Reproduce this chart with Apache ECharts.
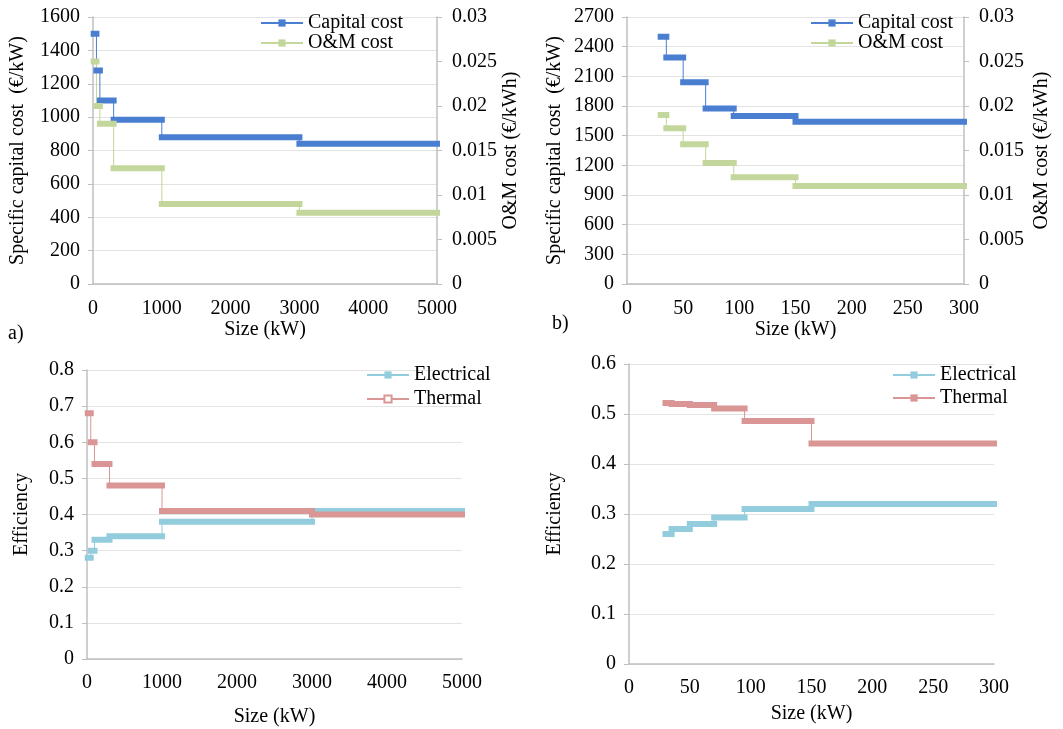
<!DOCTYPE html>
<html>
<head>
<meta charset="utf-8">
<script src="https://cdn.jsdelivr.net/npm/echarts@6/dist/echarts.min.js"></script>
<style>
  html, body { margin: 0; padding: 0; background: #fff; }
  #main { width: 1063px; height: 729px; }
</style>
</head>
<body>
<div id="main"></div>
<script>
// step limits (kW) for the big units (a, c) and the micro units (b, d)
var bigStart = [10, 50, 100, 300, 1000, 3000];
var bigEnd = [50, 100, 300, 1000, 3000, 5000];
var smallStart = [30, 35, 50, 70, 95, 150];
var smallEnd = [35, 50, 70, 95, 150, 300];

// a) costs
var capitalA = [1500, 1280, 1100, 985, 880, 840];
var omA = [0.025, 0.02, 0.018, 0.013, 0.009, 0.008];
// b) costs
var capitalB = [2500, 2290, 2040, 1775, 1700, 1640];
var omB = [0.019, 0.0175, 0.0157, 0.0136, 0.012, 0.011];
// c) efficiency
var elecC = [0.28, 0.30, 0.33, 0.34, 0.38, 0.41];
var thermC = [0.68, 0.60, 0.54, 0.48, 0.41, 0.40];
// d) efficiency
var elecD = [0.26, 0.27, 0.28, 0.293, 0.31, 0.32];
var thermD = [0.522, 0.52, 0.518, 0.511, 0.486, 0.441];

var FONT = 'Liberation Serif';
var blue = '#4a7ed0', green = '#c3d69b', cyan = '#93cddd', red = '#d99694';
var axisGray = '#bfbfbf', gridGray = '#e3e3e3';

//标签不加千分位
function plain(v) {
  return String(+v.toFixed(4));
}
//折线（细）
function thinLine(s, e, v) {
  var d = [];
  for (var i = 0; i < v.length; i++) {
    d.push([s[i], v[i]]);
    d.push([e[i], v[i]]);
  }
  return d;
}
//粗段
function thickSteps(s, e, v) {
  var d = [];
  for (var i = 0; i < v.length; i++) {
    d.push([s[i], v[i]]);
    d.push([e[i], v[i]]);
    d.push([e[i], '-']);
  }
  return d;
}
function pair(name, color, sym, g, yi, s, e, v) {
  return [
    {
      name: name, type: 'line', xAxisIndex: g, yAxisIndex: yi,
      data: thinLine(s, e, v), symbol: sym, showSymbol: false,
      lineStyle: { width: 1, color: color }, itemStyle: { color: color },
      z: 2, silent: true
    },
    {
      name: name, type: 'line', xAxisIndex: g, yAxisIndex: yi,
      data: thickSteps(s, e, v), symbol: 'none',
      lineStyle: { width: 6, color: color, cap: 'square' },
      z: 3, silent: true
    }
  ];
}
function xAx(g, max, interval, margin, gap) {
  return {
    gridIndex: g, type: 'value', min: 0, max: max, interval: interval,
    name: 'Size (kW)', nameLocation: 'middle', nameGap: gap,
    nameTextStyle: { fontFamily: FONT, fontSize: 20, color: '#000' },
    axisLine: { lineStyle: { color: axisGray, width: 1.5 } },
    axisTick: { show: false },
    splitLine: { show: false },
    axisLabel: { fontFamily: FONT, fontSize: 20, color: '#000', margin: margin, formatter: plain }
  };
}
function yAx(g, pos, max, interval, name, gap, margin, grid) {
  return {
    gridIndex: g, type: 'value', position: pos, min: 0, max: max, interval: interval,
    name: name, nameLocation: 'middle', nameGap: gap, nameRotate: 90,
    nameTextStyle: { fontFamily: FONT, fontSize: 20, color: '#000' },
    axisLine: { show: true, lineStyle: { color: axisGray, width: 1.5 } },
    axisTick: { show: true, length: 5, lineStyle: { color: axisGray } },
    splitLine: { show: grid, lineStyle: { color: gridGray } },
    axisLabel: { fontFamily: FONT, fontSize: 20, color: '#000', margin: margin, formatter: plain }
  };
}
function leg(names, left, top, gap) {
  return {
    data: names, orient: 'vertical', left: left, top: top, padding: 0,
    itemWidth: 42, itemHeight: 9, itemGap: gap, selectedMode: false,
    textStyle: { fontFamily: FONT, fontSize: 20, color: '#000', lineHeight: 20 }
  };
}

var myChart = echarts.init(document.getElementById('main'));
var option = {
  backgroundColor: '#fff',
  animation: false,
  grid: [
    { left: 93, top: 17, width: 344, height: 267 },
    { left: 627, top: 17, width: 337, height: 267 },
    { left: 87, top: 370, width: 375, height: 289 },
    { left: 629, top: 364, width: 365, height: 300 }
  ],
  xAxis: [
    xAx(0, 5000, 1000, 15, 36),
    xAx(1, 300, 50, 15, 36),
    xAx(2, 5000, 1000, 14, 48),
    xAx(3, 300, 50, 14, 40)
  ],
  yAxis: [
    yAx(0, 'left', 1600, 200, 'Specific capital cost  (\u20ac/kW)', 65, 13, true),
    yAx(0, 'right', 0.03, 0.005, 'O&M cost (\u20ac/kWh)', 63, 15, false),
    yAx(1, 'left', 2700, 300, 'Specific capital cost  (\u20ac/kW)', 62, 13, true),
    yAx(1, 'right', 0.03, 0.005, 'O&M cost (\u20ac/kWh)', 68, 15, false),
    yAx(2, 'left', 0.8, 0.1, 'Efficiency', 55, 13, true),
    yAx(3, 'left', 0.6, 0.1, 'Efficiency', 64, 13, true)
  ],
  legend: [
    leg(['Capital cost', 'O&M cost'], 260, 13, 0),
    leg(['Capital cost ', 'O&M cost '], 810, 13, 0),
    leg(['Electrical', 'Thermal'], 366, 365, 4),
    leg(['Electrical ', 'Thermal '], 892, 365, 3)
  ],
  graphic: [
    { type: 'text', left: 8, top: 324, style: { text: 'a)', font: '20px "Liberation Serif"', fill: '#000' } },
    { type: 'text', left: 552, top: 314, style: { text: 'b)', font: '20px "Liberation Serif"', fill: '#000' } }
  ],
  series: [].concat(
    pair('Capital cost', blue, 'rect', 0, 0, bigStart, bigEnd, capitalA),
    pair('O&M cost', green, 'rect', 0, 1, bigStart, bigEnd, omA),
    pair('Capital cost ', blue, 'rect', 1, 2, smallStart, smallEnd, capitalB),
    pair('O&M cost ', green, 'rect', 1, 3, smallStart, smallEnd, omB),
    pair('Electrical', cyan, 'rect', 2, 4, bigStart, bigEnd, elecC),
    pair('Thermal', red, 'emptyRect', 2, 4, bigStart, bigEnd, thermC),
    pair('Electrical ', cyan, 'rect', 3, 5, smallStart, smallEnd, elecD),
    pair('Thermal ', red, 'rect', 3, 5, smallStart, smallEnd, thermD)
  )
};
myChart.setOption(option);
window.addEventListener('resize', function () {
  myChart.resize();
});
</script>
</body>
</html>
